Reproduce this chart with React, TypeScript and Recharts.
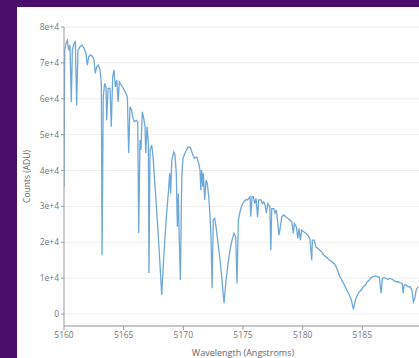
import { LineChart, Line, XAxis, YAxis, CartesianGrid, Label } from "recharts";

// wavelength (Angstroms)
const wavelengths = [
  5160.0, 5160.06, 5160.17, 5160.28, 5160.39, 5160.5, 5160.61, 5160.7, 5160.84, 5160.95,
  5161.06, 5161.17, 5161.34, 5161.51, 5161.68, 5161.84, 5161.95, 5162.07, 5162.24, 5162.41,
  5162.51, 5162.62, 5162.74, 5162.88, 5163.02, 5163.13, 5163.19, 5163.29, 5163.41, 5163.52,
  5163.58, 5163.69, 5163.86, 5163.96, 5164.08, 5164.19, 5164.3, 5164.42, 5164.53, 5164.64,
  5164.8, 5164.97, 5165.14, 5165.31, 5165.42, 5165.53, 5165.67, 5165.78, 5165.89, 5166.06,
  5166.18, 5166.26, 5166.37, 5166.45, 5166.56, 5166.68, 5166.79, 5166.85, 5166.96, 5167.07,
  5167.12, 5167.21, 5167.35, 5167.46, 5167.63, 5167.8, 5167.96, 5168.07, 5168.19, 5168.3,
  5168.41, 5168.58, 5168.74, 5168.86, 5168.94, 5169.03, 5169.2, 5169.3, 5169.41, 5169.5,
  5169.58, 5169.66, 5169.75, 5169.87, 5169.97, 5170.08, 5170.25, 5170.42, 5170.59, 5170.75,
  5170.92, 5171.12, 5171.29, 5171.4, 5171.46, 5171.54, 5171.63, 5171.68, 5171.79, 5171.9,
  5172.01, 5172.13, 5172.24, 5172.32, 5172.41, 5172.51, 5172.63, 5172.74, 5172.91, 5173.08,
  5173.24, 5173.41, 5173.58, 5173.75, 5173.91, 5174.08, 5174.25, 5174.39, 5174.5, 5174.61,
  5174.75, 5174.92, 5175.09, 5175.26, 5175.36, 5175.48, 5175.59, 5175.65, 5175.76, 5175.87,
  5175.98, 5176.09, 5176.22, 5176.32, 5176.51, 5176.62, 5176.74, 5176.85, 5176.96, 5177.08,
  5177.25, 5177.33, 5177.41, 5177.58, 5177.69, 5177.8, 5177.91, 5178.02, 5178.13, 5178.25,
  5178.42, 5178.58, 5178.75, 5178.92, 5179.09, 5179.22, 5179.3, 5179.47, 5179.59, 5179.7,
  5179.81, 5179.92, 5180.09, 5180.26, 5180.43, 5180.6, 5180.76, 5180.81, 5180.98, 5181.1,
  5181.27, 5181.43, 5181.6, 5181.77, 5181.94, 5182.1, 5182.27, 5182.44, 5182.63, 5182.8,
  5182.97, 5183.13, 5183.41, 5183.7, 5183.91, 5184.08, 5184.25, 5184.42, 5184.59, 5184.75,
  5184.92, 5185.09, 5185.26, 5185.42, 5185.59, 5185.76, 5185.93, 5186.09, 5186.26, 5186.43,
  5186.57, 5186.68, 5186.82, 5186.99, 5187.16, 5187.33, 5187.49, 5187.66, 5187.83, 5188.0,
  5188.16, 5188.33, 5188.42, 5188.5, 5188.67, 5188.84, 5189.0, 5189.15, 5189.28, 5189.4,
  5189.51, 5189.67,
];

// counts (ADU) at each wavelength
const counts = [
  35400, 73500, 75500, 76300, 73500, 75000, 59100, 73500, 75500, 75900,
  58200, 73500, 74500, 75000, 74100, 72700, 69400, 71700, 72200, 71700,
  70800, 67100, 68900, 69400, 68000, 64300, 16400, 60500, 64300, 63300,
  54000, 62900, 62900, 52200, 66100, 68000, 63300, 65200, 59100, 64700,
  63800, 62900, 61900, 60500, 44900, 57800, 56800, 54600, 53600, 54000,
  53600, 22600, 48500, 45700, 56400, 54500, 52200, 44900, 52200, 47600,
  11400, 45700, 47100, 43800, 35500, 27100, 18700, 12300, 5300, 12300,
  18700, 27100, 33600, 39200, 33600, 42900, 45200, 44300, 39200, 24300,
  33600, 20600, 9500, 38300, 43400, 44300, 45700, 46600, 46400, 44800,
  43400, 43800, 42000, 40100, 34500, 40100, 35500, 39200, 31800, 37300,
  36400, 32700, 27100, 21500, 7200, 26200, 26700, 24300, 19700, 15000,
  9500, 3000, 9500, 14100, 17800, 20600, 22500, 21500, 8500, 26200,
  28500, 30400, 31300, 31900, 31800, 32200, 32700, 27100, 32700, 32700,
  30800, 32200, 27000, 31800, 31800, 30800, 31300, 30400, 28100, 30800,
  29900, 17800, 29400, 29400, 28100, 29000, 25300, 22000, 24300, 27100,
  27600, 27100, 26700, 26200, 25700, 22500, 25300, 24300, 21100, 23900,
  20600, 23400, 22900, 22500, 22000, 21100, 15000, 20600, 20600, 18700,
  18300, 17800, 17300, 16400, 16000, 15500, 15000, 14600, 14100, 13200,
  11800, 10400, 8600, 6700, 5300, 3900, 1300, 3900, 5300, 6200,
  6700, 7600, 8100, 9000, 9500, 10200, 10400, 10600, 10400, 10200,
  5800, 9900, 10200, 9900, 9700, 9900, 9700, 9300, 9000, 9000,
  8700, 8600, 5800, 8100, 8100, 7600, 7600, 6700, 3400, 4400,
  6700, 7600,
];

const xTicks = [5160, 5165, 5170, 5175, 5180, 5185];
const yTicks = [0, 10000, 20000, 30000, 40000, 50000, 60000, 70000, 80000];

const data = wavelengths.map((wl, i) => ({ wl, counts: counts[i] }));

const tickStyle = { fill: "#777", fontSize: 8.5, fontFamily: "Open Sans, sans-serif" };

function formatCount(v: number): string {
  return v === 0 ? "0" : `${v / 10000}e+4`;
}

export default function App() {
  return (
    <div
      style={{
        position: "fixed",
        left: 0,
        top: 0,
        width: 419,
        height: 358,
        background: "#4a0e6b",
        overflow: "hidden",
      }}
    >
      <div
        style={{
          position: "absolute",
          left: 17,
          top: 7,
          width: 402,
          height: 351,
          background: "#fff",
          overflow: "hidden",
        }}
      >
        <LineChart
          width={420}
          height={351}
          data={data}
          margin={{ top: 20, right: 15, bottom: 2, left: 7 }}
        >
          <CartesianGrid vertical={false} stroke="#eeeeee" />
          <XAxis
            dataKey="wl"
            type="number"
            domain={[5160, 5190]}
            ticks={xTicks}
            allowDataOverflow
            height={30}
            tick={tickStyle}
            tickSize={4}
            tickMargin={2}
            stroke="#999"
          >
            <Label
              value="Wavelength (Angstroms)"
              position="insideBottom"
              offset={0}
              style={{ fill: "#666", fontSize: 9, fontFamily: "Open Sans, sans-serif" }}
            />
          </XAxis>
          <YAxis
            type="number"
            domain={[-3340, 80000]}
            ticks={yTicks}
            allowDataOverflow
            width={40}
            tick={tickStyle}
            tickSize={3}
            tickMargin={2}
            tickFormatter={formatCount}
            stroke="#999"
          >
            <Label
              value="Counts (ADU)"
              angle={-90}
              position="insideLeft"
              offset={3}
              style={{
                fill: "#666",
                fontSize: 8.5,
                fontFamily: "Open Sans, sans-serif",
                textAnchor: "middle",
              }}
            />
          </YAxis>
          <Line
            type="linear"
            dataKey="counts"
            stroke="#6ea8d8"
            strokeWidth={1.3}
            dot={false}
            isAnimationActive={false}
          />
        </LineChart>
      </div>
    </div>
  );
}
